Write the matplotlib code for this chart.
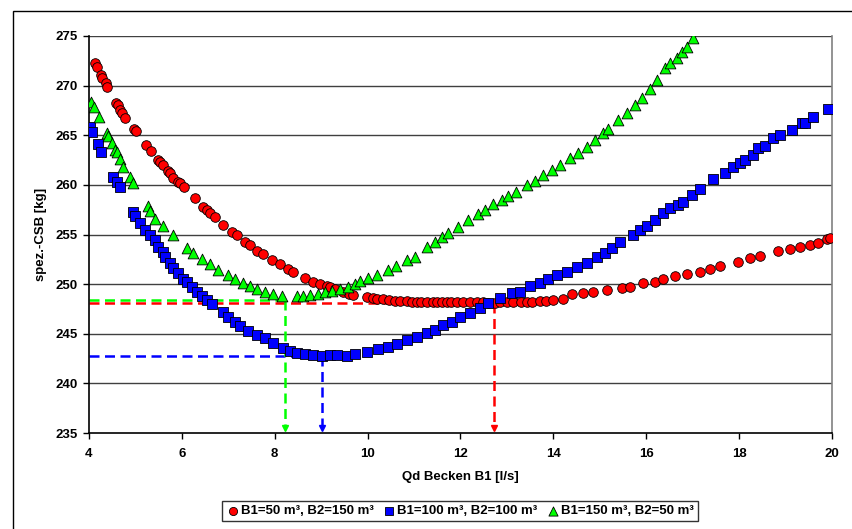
import matplotlib
matplotlib.use("Agg")
import matplotlib.pyplot as plt
from matplotlib.patches import Rectangle

plt.rcParams['font.family'] = ['Liberation Sans', 'DejaVu Sans']
plt.rcParams['font.weight'] = 'bold'

# B1=50 m3, B2=150 m3 (red circles)
red_x = [4.13, 4.17, 4.26, 4.28, 4.37, 4.39, 4.58, 4.62, 4.67, 4.71, 4.78, 4.97, 5.01,
         5.23, 5.34, 5.49, 5.53, 5.59, 5.70, 5.74, 5.81, 5.92, 5.96, 6.05, 6.28, 6.45,
         6.54, 6.61, 6.71, 6.89, 7.08, 7.19, 7.36, 7.47, 7.62, 7.75, 7.94, 8.11, 8.29,
         8.39, 8.65, 8.82, 8.97, 9.12, 9.19, 9.30, 9.47, 9.60, 9.68, 9.99, 10.12, 10.20,
         10.33, 10.45, 10.59, 10.70, 10.85, 10.95, 11.06, 11.15, 11.28, 11.40, 11.49,
         11.60, 11.71, 11.80, 11.92, 12.05, 12.20, 12.35, 12.48, 12.60, 12.75, 12.85,
         13.00, 13.13, 13.30, 13.43, 13.55, 13.71, 13.85, 13.99, 14.21, 14.40, 14.64,
         14.85, 15.15, 15.48, 15.65, 15.93, 16.19, 16.36, 16.62, 16.88, 17.16, 17.37,
         17.59, 17.98, 18.23, 18.45, 18.84, 19.09, 19.31, 19.53, 19.70, 19.89, 19.96]
red_y = [272.3, 271.9, 271.1, 270.8, 270.3, 269.9, 268.2, 268.0, 267.5, 267.2, 266.7, 265.6, 265.4,
         264.0, 263.4, 262.5, 262.3, 262.0, 261.4, 261.2, 260.7, 260.3, 260.2, 259.8, 258.7, 257.8,
         257.5, 257.2, 256.8, 256.0, 255.3, 254.9, 254.2, 253.9, 253.3, 253.0, 252.4, 252.0, 251.5,
         251.2, 250.6, 250.2, 250.0, 249.8, 249.7, 249.5, 249.2, 249.0, 248.9, 248.7, 248.6, 248.5,
         248.5, 248.4, 248.3, 248.3, 248.3, 248.2, 248.2, 248.2, 248.2, 248.2, 248.2,
         248.2, 248.2, 248.2, 248.2, 248.2, 248.2, 248.2, 248.2, 248.1, 248.1, 248.2,
         248.2, 248.2, 248.2, 248.2, 248.2, 248.3, 248.3, 248.4, 248.5, 249.0, 249.1,
         249.2, 249.4, 249.6, 249.7, 250.1, 250.2, 250.5, 250.8, 251.0, 251.2, 251.5,
         251.8, 252.2, 252.6, 252.8, 253.3, 253.5, 253.7, 253.9, 254.1, 254.5, 254.6]

# B1=100 m3, B2=100 m3 (blue squares)
blue_x = [4.02, 4.06, 4.19, 4.26, 4.52, 4.60, 4.67, 4.95, 4.99, 5.10, 5.21, 5.31, 5.42,
          5.49, 5.59, 5.64, 5.74, 5.81, 5.92, 6.02, 6.11, 6.22, 6.33, 6.43, 6.54, 6.65,
          6.89, 6.99, 7.14, 7.25, 7.42, 7.62, 7.79, 7.96, 8.18, 8.33, 8.48, 8.65, 8.82,
          9.02, 9.19, 9.34, 9.56, 9.73, 9.99, 10.22, 10.44, 10.63, 10.85, 11.06, 11.28,
          11.45, 11.62, 11.82, 11.99, 12.20, 12.42, 12.59, 12.85, 13.11, 13.28, 13.50,
          13.71, 13.88, 14.08, 14.29, 14.51, 14.72, 14.94, 15.11, 15.26, 15.43, 15.71,
          15.86, 16.02, 16.19, 16.36, 16.51, 16.68, 16.79, 16.98, 17.16, 17.44, 17.70,
          17.87, 18.02, 18.13, 18.30, 18.41, 18.56, 18.73, 18.88, 19.14, 19.35, 19.42,
          19.59, 19.91]
blue_y = [265.8, 265.3, 264.1, 263.3, 260.8, 260.3, 259.8, 257.3, 256.9, 256.2, 255.5, 255.0, 254.4,
          253.7, 253.2, 252.7, 252.1, 251.6, 251.1, 250.5, 250.2, 249.7, 249.2, 248.8, 248.4, 248.0,
          247.2, 246.7, 246.2, 245.8, 245.3, 244.9, 244.6, 244.1, 243.6, 243.3, 243.1, 243.0, 242.9,
          242.8, 242.9, 242.9, 242.8, 243.0, 243.2, 243.5, 243.7, 244.0, 244.4, 244.7, 245.1,
          245.4, 245.9, 246.2, 246.7, 247.1, 247.6, 248.1, 248.6, 249.1, 249.2, 249.8,
          250.1, 250.5, 250.9, 251.2, 251.7, 252.1, 252.7, 253.1, 253.6, 254.2, 255.0,
          255.5, 255.9, 256.5, 257.2, 257.7, 258.0, 258.3, 259.0, 259.6, 260.6, 261.2,
          261.8, 262.2, 262.5, 263.0, 263.7, 263.9, 264.7, 265.0, 265.5, 266.2, 266.2,
          266.8, 267.6]

# B1=150 m3, B2=50 m3 (green triangles)
green_x = [4.04, 4.11, 4.22, 4.39, 4.41, 4.50, 4.56, 4.60, 4.67, 4.73, 4.88, 4.95, 5.27,
           5.31, 5.42, 5.59, 5.81, 6.11, 6.24, 6.43, 6.61, 6.78, 6.99, 7.14, 7.32, 7.47,
           7.62, 7.79, 7.96, 8.16, 8.48, 8.61, 8.76, 8.93, 9.08, 9.23, 9.40, 9.58, 9.73,
           9.84, 10.01, 10.20, 10.44, 10.61, 10.85, 11.02, 11.28, 11.45, 11.60, 11.73,
           11.95, 12.16, 12.38, 12.53, 12.70, 12.89, 13.02, 13.19, 13.43, 13.60, 13.78,
           13.97, 14.14, 14.36, 14.53, 14.72, 14.90, 15.07, 15.18, 15.39, 15.58, 15.76,
           15.91, 16.08, 16.23, 16.40, 16.51, 16.66, 16.77, 16.88, 17.01]
green_y = [268.4, 267.8, 266.8, 265.2, 264.9, 264.2, 263.5, 263.3, 262.6, 261.8, 260.8, 260.2, 257.9,
           257.4, 256.6, 255.9, 254.9, 253.6, 253.1, 252.5, 252.0, 251.4, 250.9, 250.5, 250.1, 249.8,
           249.5, 249.2, 249.0, 248.8, 248.8, 248.8, 248.9, 249.0, 249.2, 249.3, 249.5, 249.7, 250.0,
           250.3, 250.6, 250.9, 251.4, 251.8, 252.4, 252.7, 253.7, 254.2, 254.7, 255.2,
           255.8, 256.5, 257.1, 257.5, 258.1, 258.5, 258.9, 259.3, 260.0, 260.4, 261.0,
           261.5, 262.0, 262.7, 263.2, 263.8, 264.5, 265.2, 265.6, 266.5, 267.2, 268.0,
           268.8, 269.7, 270.6, 271.8, 272.3, 272.8, 273.4, 273.9, 274.8]

# optimum markers (Qd at minimum, minimum value)
opt_x = [12.72, 9.01, 8.22]
opt_y = [248.1, 242.8, 248.45]
labels = ['B1=50 m³, B2=150 m³', 'B1=100 m³, B2=100 m³', 'B1=150 m³, B2=50 m³']
colors = ['#FF0000', '#0000FF', '#00FF00']

fig = plt.figure(figsize=(8.53, 5.29), dpi=100)
ax = fig.add_axes([89/853, 1-433/529, (832-89)/853, (433-36)/529])

ax.set_xlim(4, 20)
ax.set_ylim(235, 275)

for yy in range(240, 276, 5):
    ax.axhline(yy, color='#404040', lw=1.0, zorder=1)

# dashed guide lines with arrows
for xo, yo, c in zip(opt_x, opt_y, colors):
    ax.plot([4, xo], [yo, yo], color=c, lw=1.8, ls=(0, (4, 2.2)), zorder=2, clip_on=False)
    ax.plot([xo, xo], [yo, 235.6], color=c, lw=1.8, ls=(0, (4, 2.2)), zorder=2)
    ax.plot([xo], [235.5], marker='v', color=c, ms=5, zorder=2, clip_on=False)

ax.scatter(red_x, red_y, s=48, marker='o', color=colors[0], edgecolors='black',
           linewidths=0.6, zorder=3, label=labels[0])
ax.scatter(blue_x, blue_y, s=48, marker='s', color=colors[1], edgecolors='black',
           linewidths=0.6, zorder=4, label=labels[1])
ax.scatter(green_x, green_y, s=60, marker='^', color=colors[2], edgecolors='black',
           linewidths=0.6, zorder=5, label=labels[2])

ax.set_xticks(range(4, 21, 2))
ax.set_yticks(range(235, 276, 5))
ax.tick_params(axis='both', labelsize=9.5, length=4, width=1, direction='out', pad=4)
ax.tick_params(axis='x', pad=7)
for sp in ['left', 'bottom']:
    ax.spines[sp].set_linewidth(1.2)
    ax.spines[sp].set_color('black')
ax.spines['right'].set_color('#808080')
ax.spines['right'].set_linewidth(1.2)
ax.spines['top'].set_visible(False)

ax.set_xlabel('Qd Becken B1 [l/s]', fontsize=9.5, fontweight='bold', labelpad=8)
ax.set_ylabel('spez.-CSB [kg]', fontsize=9.5, fontweight='bold', labelpad=6)

leg = fig.legend(loc='center', bbox_to_anchor=(460/853, 1-511/529), ncol=3, fontsize=9.5,
                 frameon=True, fancybox=False, edgecolor='black', handletextpad=0.1,
                 columnspacing=0.7, borderpad=0.3, markerscale=0.85, handlelength=1.0)
leg.get_frame().set_linewidth(1.0)

fig.patches.append(Rectangle((13/853, -0.1), 1.2, 1-11/529+0.1, transform=fig.transFigure,
                             fill=False, edgecolor='black', lw=1.0))

fig.savefig('out.png', dpi=100)
